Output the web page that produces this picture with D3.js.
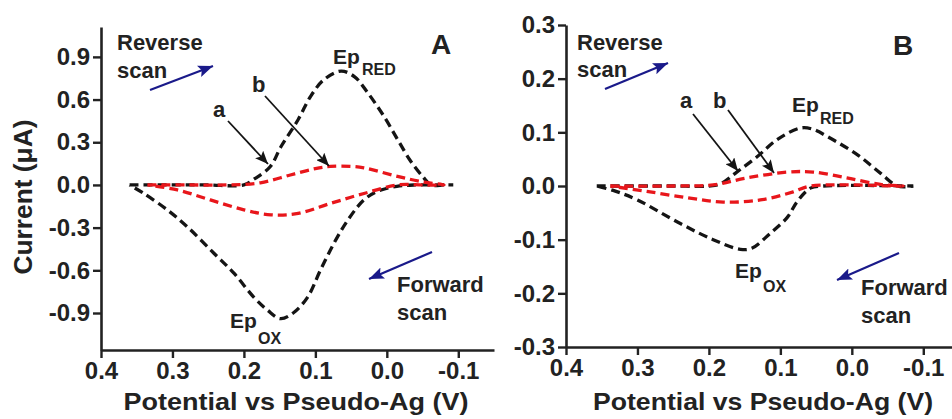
<!DOCTYPE html>
<html>
<head>
<meta charset="utf-8">
<script src="https://cdn.jsdelivr.net/npm/d3@7"></script>
<style>
  html, body { margin: 0; padding: 0; background: #ffffff; }
  svg { display: block; font-family: "Liberation Sans", Arial, sans-serif; }
</style>
</head>
<body>
<script>
// ---------------- DATA ----------------
const potentialTicks = [0.4, 0.3, 0.2, 0.1, 0.0, -0.1];
const potentialTickLabels = ["0.4", "0.3", "0.2", "0.1", "0.0", "-0.1"];

const currentTicksA = [0.9, 0.6, 0.3, 0.0, -0.3, -0.6, -0.9];
const currentTickLabelsA = ["0.9", "0.6", "0.3", "0.0", "-0.3", "-0.6", "-0.9"];
const currentTicksB = [0.3, 0.2, 0.1, 0.0, -0.1, -0.2, -0.3];
const currentTickLabelsB = ["0.3", "0.2", "0.1", "0.0", "-0.1", "-0.2", "-0.3"];

// Panel A, curve a (black): reverse (reduction) branch and forward (oxidation) branch, [potential V, current µA]
const blackA_reverse = [[0.36,0],[0.30,0],[0.25,0],[0.20,0.0],[0.186,0.04],[0.163,0.13],[0.148,0.27],[0.124,0.46],[0.107,0.62],[0.088,0.74],[0.064,0.80],[0.045,0.76],[0.027,0.65],[0.005,0.49],[-0.015,0.32],[-0.033,0.17],[-0.050,0.06],[-0.062,0.0],[-0.080,0],[-0.093,0]];
const blackA_forward = [[0.36,0],[0.34,-0.06],[0.306,-0.18],[0.278,-0.30],[0.242,-0.48],[0.214,-0.62],[0.186,-0.79],[0.167,-0.88],[0.149,-0.94],[0.131,-0.90],[0.111,-0.79],[0.093,-0.60],[0.074,-0.41],[0.055,-0.25],[0.032,-0.105],[0.013,-0.045],[-0.014,-0.01],[-0.040,0],[-0.093,0]];
// Panel A, curve b (red)
const redA_reverse = [[0.335,0],[0.28,0.0],[0.223,0.0],[0.177,0.015],[0.135,0.07],[0.100,0.115],[0.079,0.13],[0.050,0.13],[0.032,0.12],[-0.015,0.06],[-0.052,0.02],[-0.080,0]];
const redA_forward = [[0.335,0],[0.293,-0.035],[0.247,-0.105],[0.200,-0.175],[0.162,-0.21],[0.124,-0.20],[0.079,-0.13],[0.032,-0.06],[-0.015,0],[-0.050,0],[-0.080,0]];

// Panel B, curve a (black)
const blackB_reverse = [[0.357,0],[0.30,0],[0.25,0],[0.20,0.0],[0.184,0.004],[0.161,0.026],[0.133,0.054],[0.105,0.086],[0.072,0.108],[0.055,0.106],[0.034,0.092],[-0.008,0.058],[-0.040,0.024],[-0.064,0],[-0.086,0]];
const blackB_forward = [[0.357,0],[0.33,-0.01],[0.30,-0.026],[0.24,-0.07],[0.194,-0.10],[0.156,-0.118],[0.140,-0.116],[0.114,-0.088],[0.090,-0.058],[0.077,-0.03],[0.058,-0.004],[0.040,0],[-0.086,0]];
// Panel B, curve b (red)
const redB_reverse = [[0.338,0],[0.25,0],[0.194,0.002],[0.147,0.015],[0.090,0.026],[0.054,0.026],[0.007,0.015],[-0.040,0.003],[-0.072,0]];
const redB_forward = [[0.338,0],[0.287,-0.01],[0.230,-0.022],[0.180,-0.03],[0.128,-0.026],[0.082,-0.011],[0.058,0],[-0.072,0]];

const xLabel = "Potential vs Pseudo-Ag (V)";
const yLabel = "Current (\u03BCA)";

// ---------------- DRAW ----------------
const W = 952, H = 419;
const svg = d3.select("body").append("svg").attr("width", W).attr("height", H);
const TXT = "#222222";
const BLACK = "#141414";
const RED = "#e8161b";
const NAVY = "#1a1a8a";

const defs = svg.append("defs");
function marker(id, color, w, h) {
  defs.append("marker").attr("id", id)
    .attr("viewBox", `0 0 ${w} ${h}`).attr("refX", w).attr("refY", h / 2)
    .attr("markerWidth", w).attr("markerHeight", h).attr("markerUnits", "userSpaceOnUse")
    .attr("orient", "auto")
    .append("path").attr("d", `M0,0 L${w},${h/2} L0,${h} L${w*0.2},${h/2} Z`).attr("fill", color);
}
marker("ahBlack", BLACK, 13, 11);
marker("ahBlue", NAVY, 15, 12);

function panel(cfg) {
  const x = d3.scaleLinear().domain([0.4, -0.15]).range([cfg.x0, cfg.x0 + 393]);
  const y = d3.scaleLinear().domain(cfg.yDomain).range([cfg.yBottom, cfg.yTop]);
  const g = svg.append("g");

  const xAxis = d3.axisBottom(x).tickValues(potentialTicks)
    .tickFormat((d, i) => potentialTickLabels[i]).tickSize(8).tickSizeOuter(0).tickPadding(4);
  const yAxis = d3.axisLeft(y).tickValues(cfg.yTicks)
    .tickFormat((d, i) => cfg.yTickLabels[i]).tickSize(8).tickSizeOuter(0).tickPadding(3);

  const gx = g.append("g").attr("transform", `translate(0,${cfg.yBottom})`).call(xAxis);
  const gy = g.append("g").attr("transform", `translate(${cfg.x0},0)`).call(yAxis);
  [gx, gy].forEach(a => {
    a.select(".domain").attr("stroke", "#222").attr("stroke-width", 2.6);
    a.selectAll(".tick line").attr("stroke", "#222").attr("stroke-width", 2.4);
    a.selectAll(".tick text").attr("fill", TXT).attr("font-size", 24).attr("font-weight", "bold")
      .attr("font-family", "'Liberation Sans', Arial, sans-serif");
  });

  g.append("text").attr("x", cfg.xLabelX).attr("y", 410).attr("text-anchor", "middle")
    .attr("font-size", 24).attr("font-weight", "bold").attr("fill", TXT)
    .attr("textLength", cfg.xLabelLen).attr("lengthAdjust", "spacingAndGlyphs")
    .text(xLabel);

  const line = d3.line().x(d => x(d[0])).y(d => y(d[1])).curve(d3.curveCatmullRom.alpha(0.5));
  function loop(rev, fwd, color) {
    const pts = rev.concat(fwd.slice().reverse().slice(1));
    g.append("path").attr("d", line(pts)).attr("fill", "none").attr("stroke", color)
      .attr("stroke-width", 3.3).attr("stroke-dasharray", "9,5").attr("stroke-linecap", "butt");
  }
  loop(cfg.black[0], cfg.black[1], BLACK);
  loop(cfg.red[0], cfg.red[1], RED);
  return g;
}

const gA = panel({
  x0: 101, yTop: 27, yBottom: 350, yDomain: [-1.16, 1.11],
  yTicks: currentTicksA, yTickLabels: currentTickLabelsA,
  xLabelX: 296, xLabelLen: 345,
  black: [blackA_reverse, blackA_forward], red: [redA_reverse, redA_forward]
});
const gB = panel({
  x0: 566, yTop: 25, yBottom: 347, yDomain: [-0.3, 0.3],
  yTicks: currentTicksB, yTickLabels: currentTickLabelsB,
  xLabelX: 763, xLabelLen: 340,
  black: [blackB_reverse, blackB_forward], red: [redB_reverse, redB_forward]
});

// y label (panel A)
svg.append("text").attr("transform", "translate(32,197) rotate(-90)").attr("text-anchor", "middle")
  .attr("font-size", 25).attr("font-weight", "bold").attr("fill", TXT)
  .attr("textLength", 155).attr("lengthAdjust", "spacingAndGlyphs").text(yLabel);

// ---------------- ANNOTATIONS ----------------
function txt(x, y, s, size, anchor) {
  return svg.append("text").attr("x", x).attr("y", y).attr("font-size", size)
    .attr("font-weight", "bold").attr("fill", TXT).attr("text-anchor", anchor || "start").text(s);
}
function arrow(x1, y1, x2, y2, color, w, m) {
  svg.append("line").attr("x1", x1).attr("y1", y1).attr("x2", x2).attr("y2", y2)
    .attr("stroke", color).attr("stroke-width", w).attr("marker-end", `url(#${m})`);
}
function ep(x, y, sub, subX, subY) {
  txt(x, y, "Ep", 21);
  txt(subX, subY, sub, 16);
}

// Panel A
txt(117, 50, "Reverse", 22); txt(117, 78, "scan", 22);
arrow(150, 90, 213, 66, NAVY, 2.2, "ahBlue");
txt(397, 292, "Forward", 22); txt(397, 320, "scan", 22);
arrow(432, 252, 369, 279, NAVY, 2.2, "ahBlue");
txt(213, 117, "a", 22); arrow(228, 121, 268, 164, BLACK, 1.8, "ahBlack");
txt(252, 92, "b", 22);  arrow(265, 96, 329, 166, BLACK, 1.8, "ahBlack");
ep(333, 64, "RED", 362, 75);
ep(230, 328, "OX", 258, 344);
txt(431, 54, "A", 28);

// Panel B
txt(577, 50, "Reverse", 22); txt(577, 77, "scan", 22);
arrow(605, 89, 668, 63, NAVY, 2.2, "ahBlue");
txt(861, 295, "Forward", 22); txt(861, 323, "scan", 22);
arrow(899, 253, 837, 280, NAVY, 2.2, "ahBlue");
txt(680, 108, "a", 22); arrow(693, 114, 738, 171, BLACK, 1.8, "ahBlack");
txt(713, 108, "b", 22); arrow(728, 110, 774, 173, BLACK, 1.8, "ahBlack");
ep(792, 112, "RED", 820, 124);
ep(735, 278, "OX", 763, 292);
txt(893, 55, "B", 28);
</script>
</body>
</html>
